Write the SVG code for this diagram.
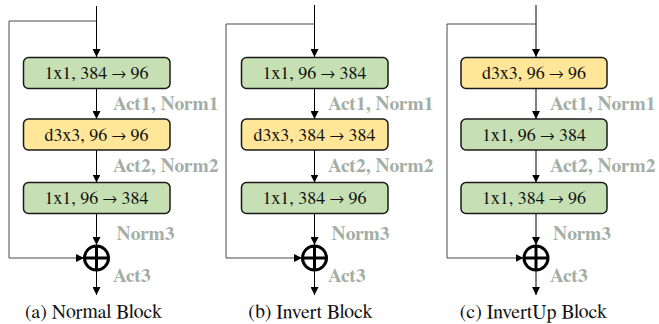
<svg xmlns="http://www.w3.org/2000/svg" width="659" height="324" viewBox="0 0 659 324">
  <defs>
    <marker id="arrow" markerUnits="userSpaceOnUse" markerWidth="8" markerHeight="8" refX="8" refY="4" orient="auto">
      <path d="M0,0 L8,4 L0,8 z" fill="#000"/>
    </marker>
    <style>
      text { font-family: FreeSerif, 'Noto Serif CJK SC', 'Liberation Serif', serif; }
      .box { stroke: #1a1a1a; stroke-width: 1.5; }
      .conv1 { fill: #c6e0b4; }
      .dw { fill: #ffe699; }
      .btxt { font-size: 18px; fill: #111; text-anchor: middle; }
      .lbl { font-size: 19.5px; font-weight: bold; fill: #a3aea6; }
      .cap { font-size: 19.8px; fill: #111; text-anchor: middle; }
      .wire { fill: none; stroke: #000; stroke-width: 1; }
      .skip { fill: none; stroke: #4a4a4a; stroke-width: 1; }
      .sum { fill: #fff; stroke: #000; stroke-width: 3; }
    </style>
  </defs>
  <rect width="659" height="324" fill="#fff"/>

  <!-- (a) Normal Block -->
  <g id="normal-block">
    <g id="connectors-a">
      <path class="wire" d="M96.5,6 V57" marker-end="url(#arrow)"/>
      <path class="skip" d="M96.5,21 H9 V258 H84" marker-end="url(#arrow)"/>
      <path class="wire" d="M96.5,88.5 V119" marker-end="url(#arrow)"/>
      <path class="wire" d="M96.5,150 V182.5" marker-end="url(#arrow)"/>
      <path class="wire" d="M96.5,213.5 V245" marker-end="url(#arrow)"/>
      <path class="wire" d="M96.5,271 V295" marker-end="url(#arrow)"/>
    </g>
    <g id="a-conv1">
      <rect class="box conv1" x="23.5" y="57.5" width="146.5" height="31" rx="5"/>
      <text class="btxt" x="96.5" y="79">1x1, 384 → 96</text>
    </g>
    <g id="a-dw">
      <rect class="box dw" x="23.5" y="119" width="146.5" height="31" rx="5"/>
      <text class="btxt" x="96.5" y="140.5">d3x3, 96 → 96</text>
    </g>
    <g id="a-conv2">
      <rect class="box conv1" x="23.5" y="182.5" width="146.5" height="31" rx="5"/>
      <text class="btxt" x="96.5" y="204">1x1, 96 → 384</text>
    </g>
    <g id="a-sum">
      <circle class="sum" cx="96.5" cy="258" r="12"/>
      <path class="sum" d="M96.5,246 V270 M84.5,258 H108.5"/>
    </g>
    <text class="lbl" x="113" y="110">Act1, Norm1</text>
    <text class="lbl" x="113" y="172">Act2, Norm2</text>
    <text class="lbl" x="116.5" y="240">Norm3</text>
    <text class="lbl" x="113" y="282">Act3</text>
    <text class="cap" x="93.5" y="318">(a) Normal Block</text>
  </g>

  <!-- (b) Invert Block -->
  <g id="invert-block">
    <g id="connectors-b">
      <path class="wire" d="M314.5,5 V57" marker-end="url(#arrow)"/>
      <path class="skip" d="M314.5,24 H226 V258 H302" marker-end="url(#arrow)"/>
      <path class="wire" d="M314.5,88.5 V119" marker-end="url(#arrow)"/>
      <path class="wire" d="M314.5,150 V182.5" marker-end="url(#arrow)"/>
      <path class="wire" d="M314.5,213.5 V245" marker-end="url(#arrow)"/>
      <path class="wire" d="M314.5,271 V295" marker-end="url(#arrow)"/>
    </g>
    <g id="b-conv1">
      <rect class="box conv1" x="241.5" y="57.5" width="146.5" height="31" rx="5"/>
      <text class="btxt" x="314.5" y="79">1x1, 96 → 384</text>
    </g>
    <g id="b-dw">
      <rect class="box dw" x="241.5" y="119" width="146.5" height="31" rx="5"/>
      <text class="btxt" x="314.5" y="140.5">d3x3, 384 → 384</text>
    </g>
    <g id="b-conv2">
      <rect class="box conv1" x="241.5" y="182.5" width="146.5" height="31" rx="5"/>
      <text class="btxt" x="314.5" y="204">1x1, 384 → 96</text>
    </g>
    <g id="b-sum">
      <circle class="sum" cx="314.5" cy="258" r="12"/>
      <path class="sum" d="M314.5,246 V270 M302.5,258 H326.5"/>
    </g>
    <text class="lbl" x="328" y="110">Act1, Norm1</text>
    <text class="lbl" x="328" y="172">Act2, Norm2</text>
    <text class="lbl" x="331.5" y="240">Norm3</text>
    <text class="lbl" x="328" y="282">Act3</text>
    <text class="cap" x="310.5" y="318">(b) Invert Block</text>
  </g>

  <!-- (c) InvertUp Block -->
  <g id="invertup-block">
    <g id="connectors-c">
      <path class="wire" d="M536,5 V57" marker-end="url(#arrow)"/>
      <path class="skip" d="M536,24 H447 V258 H523.5" marker-end="url(#arrow)"/>
      <path class="wire" d="M536,88.5 V119" marker-end="url(#arrow)"/>
      <path class="wire" d="M536,150 V182.5" marker-end="url(#arrow)"/>
      <path class="wire" d="M536,213.5 V245" marker-end="url(#arrow)"/>
      <path class="wire" d="M536,271 V295" marker-end="url(#arrow)"/>
    </g>
    <g id="c-dw">
      <rect class="box dw" x="461" y="57.5" width="146" height="31" rx="5"/>
      <text class="btxt" x="534" y="79">d3x3, 96 → 96</text>
    </g>
    <g id="c-conv1">
      <rect class="box conv1" x="461" y="119" width="146" height="31" rx="5"/>
      <text class="btxt" x="534" y="140.5">1x1, 96 → 384</text>
    </g>
    <g id="c-conv2">
      <rect class="box conv1" x="461" y="182.5" width="146" height="31" rx="5"/>
      <text class="btxt" x="534" y="204">1x1, 384 → 96</text>
    </g>
    <g id="c-sum">
      <circle class="sum" cx="536" cy="258" r="12"/>
      <path class="sum" d="M536,246 V270 M524,258 H548"/>
    </g>
    <text class="lbl" x="550" y="110">Act1, Norm1</text>
    <text class="lbl" x="550" y="172">Act2, Norm2</text>
    <text class="lbl" x="553" y="240">Norm3</text>
    <text class="lbl" x="550" y="282">Act3</text>
    <text class="cap" x="533.5" y="318">(c) InvertUp Block</text>
  </g>
</svg>
